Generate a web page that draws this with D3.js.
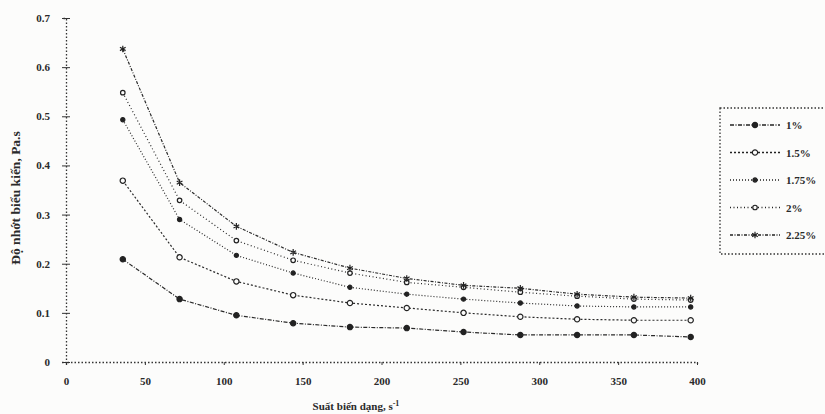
<!DOCTYPE html>
<html>
<head>
<meta charset="utf-8">
<script src="https://cdn.jsdelivr.net/npm/d3@7"></script>
<style>
    html, body { margin: 0; padding: 0; background: #fcfcfb; }
    svg { display: block; }
    text { font-family: "Liberation Serif", "DejaVu Serif", serif; fill: #2a2a2a; }
</style>
</head>
<body>
<script>
// dữ liệu
const shearRates = [36, 72, 108, 144, 180, 216, 252, 288, 324, 360, 396];
const seriesNames = ['1%', '1.5%', '1.75%', '2%', '2.25%'];
const visc1 = [0.209, 0.128, 0.095, 0.079, 0.071, 0.069, 0.061, 0.055, 0.055, 0.055, 0.051];
const visc15 = [0.369, 0.213, 0.164, 0.136, 0.120, 0.110, 0.100, 0.092, 0.087, 0.085, 0.085];
const visc175 = [0.493, 0.290, 0.217, 0.181, 0.152, 0.138, 0.128, 0.120, 0.114, 0.112, 0.112];
const visc2 = [0.548, 0.329, 0.247, 0.207, 0.181, 0.162, 0.152, 0.142, 0.134, 0.128, 0.126];
const visc225 = [0.637, 0.365, 0.276, 0.223, 0.191, 0.170, 0.156, 0.150, 0.138, 0.132, 0.130];
const xTicks = [0, 50, 100, 150, 200, 250, 300, 350, 400];
const yTicks = [0, 0.1, 0.2, 0.3, 0.4, 0.5, 0.6, 0.7];

const width = 825;
const height = 414;
const margin = { top: 18, right: 128, bottom: 52, left: 66 };

const allSeries = [visc1, visc15, visc175, visc2, visc225];
const dashes = ['4,1.5,1,1.5', '2,2', '1,2', '1,2.5', '3,1.5,1,1.5'];
const symbols = [d3.symbolCircle, d3.symbolCircle, d3.symbolCircle, d3.symbolCircle, d3.symbolAsterisk];
const filled = [true, false, true, false, false];
const symSize = [22, 22, 14, 16, 30];

const chartWidth = 697 - margin.left;
const chartHeight = height - margin.top - margin.bottom;

const svg = d3.select('body').append('svg')
    .attr('width', width)
    .attr('height', height);

const g = svg.append('g').attr('transform', `translate(${margin.left}, ${margin.top})`);

const xScale = d3.scaleLinear().domain([0, 400]).range([0, chartWidth]);
const yScale = d3.scaleLinear().domain([0, 0.7]).range([chartHeight, 0]);

// trục x
const xAxis = g.append('g')
    .attr('transform', `translate(0, ${chartHeight})`)
    .call(d3.axisBottom(xScale).tickValues(xTicks).tickSize(3).tickPadding(12).tickFormat(d3.format('d')));
// trục y
const yAxis = g.append('g')
    .call(d3.axisLeft(yScale).tickValues(yTicks).tickSize(4).tickPadding(12).tickFormat(d => d === 0 ? '0' : d3.format('.1f')(d)));

[xAxis, yAxis].forEach(a => {
    a.select('.domain').attr('stroke', '#333').attr('stroke-dasharray', '1.5,2').attr('stroke-width', 1.3);
    a.selectAll('.tick line').attr('stroke', '#333');
    a.selectAll('text').style('font-size', '11px').style('font-weight', 'bold').attr('fill', '#3a3a3a');
});
yAxis.selectAll('.tick line').attr('x2', 4).attr('x1', -4);

// đường
const line = d3.line()
    .x((d, i) => xScale(shearRates[i]))
    .y(d => yScale(d));

allSeries.forEach((vals, s) => {
    g.append('path')
        .datum(vals)
        .attr('fill', 'none')
        .attr('stroke', '#2a2a2a')
        .attr('stroke-width', 1.2)
        .attr('stroke-dasharray', dashes[s])
        .attr('d', line);
    g.selectAll(null)
        .data(vals)
        .enter().append('path')
        .attr('transform', (d, i) => `translate(${xScale(shearRates[i])}, ${yScale(d)})`)
        .attr('d', d3.symbol().type(symbols[s]).size(symSize[s]))
        .attr('fill', filled[s] ? '#222' : '#fcfcfb')
        .attr('stroke', '#222')
        .attr('stroke-width', 1.2);
});

// nhãn trục
svg.append('text')
    .attr('x', 356).attr('y', 410)
    .attr('text-anchor', 'middle')
    .style('font-size', '11px').style('font-weight', 'bold')
    .html('Suất biến dạng, s<tspan dy="-4" font-size="8px">-1</tspan>');
svg.append('text')
    .attr('transform', 'translate(20, 198) rotate(-90)')
    .attr('text-anchor', 'middle')
    .style('font-size', '13.5px').style('font-weight', 'bold')
    .text('Độ nhớt biểu kiến, Pa.s');

// chú thích
const legend = svg.append('g').attr('transform', 'translate(720, 108)');
legend.append('rect')
    .attr('width', 112).attr('height', 146)
    .attr('fill', 'none')
    .attr('stroke', '#333')
    .attr('stroke-width', 1.3)
    .attr('stroke-dasharray', '1.5,2');
seriesNames.forEach((name, s) => {
    const yy = 17 + s * 27.5;
    legend.append('line')
        .attr('x1', 10).attr('x2', 60).attr('y1', yy).attr('y2', yy)
        .attr('stroke', '#222').attr('stroke-width', 1.3)
        .attr('stroke-dasharray', dashes[s]);
    legend.append('path')
        .attr('transform', `translate(35, ${yy})`)
        .attr('d', d3.symbol().type(symbols[s]).size(symSize[s]))
        .attr('fill', filled[s] ? '#222' : '#fcfcfb')
        .attr('stroke', '#222').attr('stroke-width', 1.2);
    legend.append('text')
        .attr('x', 66).attr('y', yy + 4)
        .style('font-size', '11px').style('font-weight', 'bold')
        .text(name);
});
</script>
</body>
</html>
